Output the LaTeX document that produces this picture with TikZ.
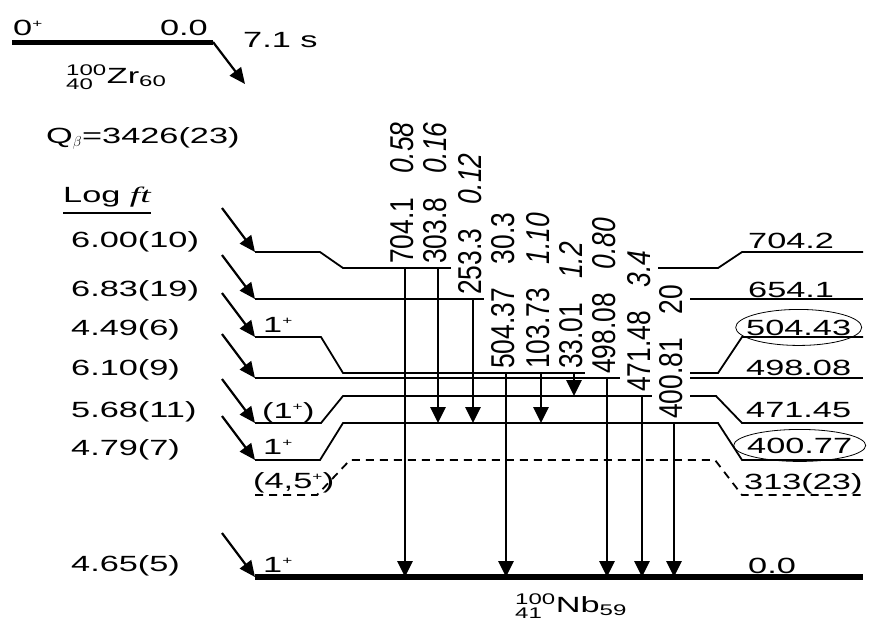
\documentclass[tikz,border=0pt]{standalone}
\usepackage{amsmath}
\usepackage{fontspec}
\setmainfont[FakeStretch=1.56]{Liberation Sans}
\newfontfamily\gamfont[FakeStretch=0.8]{Liberation Sans}
\newfontfamily\ftfont[FakeStretch=1.7]{Liberation Serif}
\usetikzlibrary{arrows.meta,calc}
\newcommand\sppl{\textsuperscript{\fontsize{11}{11}\selectfont +}}

\begin{document}
\begin{tikzpicture}[x=1pt, y=-1pt, font=\fontsize{22}{26}\selectfont,
    lev/.style={line width=1.8pt},
    gsline/.style={line width=6pt},
    feed/.style={line width=2.2pt, -{Triangle[length=16pt, width=14pt]}},
    gam/.style={line width=2.7pt, -{Triangle[length=16pt, width=15pt]}},
    glab/.style={rotate=90, anchor=west, fill=white, inner xsep=2pt, inner ysep=7pt,
        font=\gamfont\fontsize{33}{36}\selectfont},
    lab/.style={anchor=base west, inner sep=0pt}]
    \useasboundingbox (0,0) rectangle (869,635);

    % Parent 100Zr ground state and its decay
    \draw[line width=5pt] (12,42) -- (213,42) coordinate (zrstart);
    \coordinate (zrend) at (245,84);
    \draw[feed] (zrstart) -- (zrend);
    \node[lab] (zrspin) at (13,35) {0\sppl};
    \node[lab, anchor=base east] (zren) at (208,35) {0.0};
    \node[lab] (thalf) at (243,47) {7.1 s};
    \node[lab] (zrname) at (66,83) {${}^{\text{100}}_{\text{40}}$Zr$_{\text{60}}$};
    \node[lab] (qbeta) at (46,143) {Q$_{\beta}$=3426(23)};

    % Log ft column
    \node[lab] (logft) at (63,202) {Log {\ftfont\itshape ft}};
    \draw[line width=1.4pt] ([yshift=-6pt]logft.south west) -- ([yshift=-6pt]logft.south east);
    \foreach \yb/\val in {247/6.00(10), 296/6.83(19), 335/4.49(6), 375/6.10(9),
                          417/5.68(11), 455/4.79(7), 571/4.65(5)}
        \node[lab] (ft\yb) at (71,\yb) {\val};

    % Levels of 100Nb
    \draw[lev] (255,252) -- (320,252) -- (343,268) coordinate (L704) -- (718,268) -- (742,252) -- (863,252);
    \draw[lev] (255,299) coordinate (L654) -- (863,299);
    \draw[lev] (255,337) -- (321,337) -- (343,373) coordinate (L504) -- (718,373) -- (742,337) -- (863,337);
    \draw[lev] (255,378) coordinate (L498) -- (863,378);
    \draw[lev] (255,423) -- (321,423) -- (343,396) coordinate (L471) -- (716,396) -- (742,423) -- (863,423);
    \draw[lev] (255,460) -- (320,460) -- (343,423) coordinate (L400) -- (718,423) -- (742,460) -- (863,460);
    \draw[lev, dash pattern=on 8pt off 6pt] (255,495) -- (317,495) -- (350,460) -- (715,460) -- (742,495) -- (863,495);
    \draw[gsline] (255,577) coordinate (L0) -- (863,577);

    % Beta feeding arrows
    \foreach \ly in {252,299,337,378,423,460,577} {
        \coordinate (f\ly) at (222,\ly-44);
        \coordinate (l\ly) at (255,\ly);
        \draw[feed] (f\ly) -- (l\ly);
    }

    % Spins (left) and energies (right)
    \node[lab] (j504) at (263,332) {1\sppl};
    \node[lab] (j471) at (262,418) {(1\sppl)};
    \node[lab] (j400) at (263,454) {1\sppl};
    \node[lab] (j313) at (253,488) {(4,5\sppl)};
    \node[lab] (j0) at (263,572) {1\sppl};

    \node[lab] (e704) at (748,248) {704.2};
    \node[lab] (e654) at (748,297) {654.1};
    \node[lab] (e504) at (746,335) {504.43};
    \node[lab] (e498) at (746,375) {498.08};
    \node[lab] (e471) at (746,417) {471.45};
    \node[lab] (e400) at (747,453) {400.77};
    \node[lab] (e313) at (744,489) {313(23)};
    \node[lab] (e0) at (748,573) {0.0};
    \draw[line width=0.8pt] (e504.center) ellipse [x radius=63, y radius=18];
    \draw[line width=0.8pt] (e400.center) ellipse [x radius=66, y radius=16];

    % Gamma transitions with energy and intensity
    \foreach \gx/\levA/\levB/\ener/\inten in {
        405/L704/L0/704.1/\textit{0.58},
        438/L704/L400/303.8/\textit{0.16},
        473/L654/L400/253.3/\textit{0.12},
        506/L504/L0/504.37/30.3,
        541/L504/L400/103.73/\textit{1.10},
        574/L504/L471/33.01/\textit{1.2},
        607/L498/L0/498.08/\textit{0.80},
        642/L471/L0/471.48/\textit{3.4},
        674/L400/L0/400.81/20} {
        \coordinate (s\gx) at (\gx,0 |- \levA);
        \coordinate (e\gx) at (\gx,0 |- \levB);
        \node[glab] (t\gx) at ([shift={(-3,-2)}]s\gx) {\ener\hspace{24pt}\inten};
        \draw[gam] (s\gx) -- (e\gx);
    }

    % Daughter name
    \node[lab] (nbname) at (515,612) {${}^{\text{100}}_{\text{41}}$Nb$_{\text{59}}$};
\end{tikzpicture}
\end{document}
